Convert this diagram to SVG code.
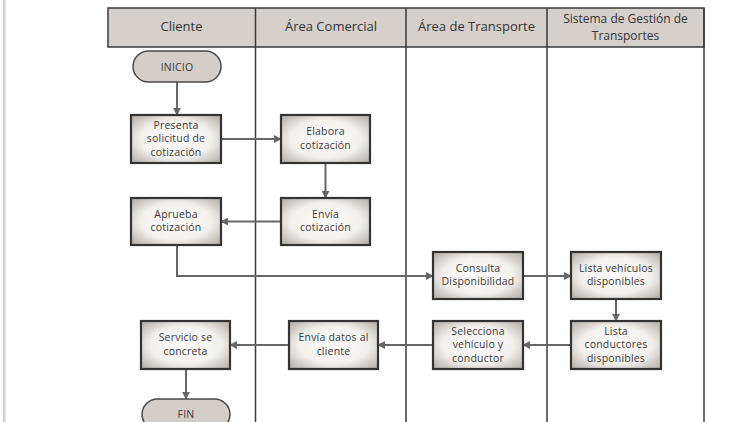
<svg xmlns="http://www.w3.org/2000/svg" width="739" height="422" viewBox="0 0 739 422">
<defs>
<radialGradient id="boxg" cx="50%" cy="50%" r="65%">
<stop offset="0%" stop-color="#fdfcfb"/>
<stop offset="60%" stop-color="#f3f1ee"/>
<stop offset="100%" stop-color="#b9b5b0"/>
</radialGradient>
<marker id="arr" viewBox="0 0 10 10" refX="9" refY="5" markerWidth="4" markerHeight="4" orient="auto" markerUnits="strokeWidth">
<path d="M0,0 L10,5 L0,10 z" fill="#666"/>
</marker>
<style>
.hdr{fill:#d5d0cb;stroke:#3a3a3a;stroke-width:1.5}
.lane{stroke:#3a3a3a;stroke-width:1.5;fill:none}
.box{fill:url(#boxg);stroke:#333;stroke-width:2.2}
.term{fill:#d3cec9;stroke:#4a4a4a;stroke-width:1.5}
.ht{font-family:"Open Sans","DejaVu Sans",sans-serif;font-size:13px;fill:#333;text-anchor:middle}
.ht2{font-family:"Open Sans","DejaVu Sans",sans-serif;font-size:12px;fill:#333;text-anchor:middle}
.t{font-family:"Open Sans","DejaVu Sans",sans-serif;font-size:10.5px;fill:#3a3a3a;text-anchor:middle;letter-spacing:0.2px}
.c{stroke:#666;stroke-width:2;fill:none;marker-end:url(#arr)}
</style>
</defs>
<rect x="0" y="0" width="739" height="422" fill="#ffffff"/>
<rect x="3" y="0" width="2.5" height="422" fill="#d2d2d2"/>
<g id="lanes">
<rect class="hdr" x="108" y="8" width="596" height="39"/>
<line class="lane" x1="255.5" y1="8" x2="255.5" y2="422"/>
<line class="lane" x1="406" y1="8" x2="406" y2="422"/>
<line class="lane" x1="547" y1="8" x2="547" y2="422"/>
<line class="lane" x1="704" y1="8" x2="704" y2="422"/>
<text class="ht" x="181.5" y="31">Cliente</text>
<text class="ht" x="331" y="31">Área Comercial</text>
<text class="ht" x="476.5" y="31">Área de Transporte</text>
<text class="ht2" x="625.5" y="23">Sistema de Gestión de</text>
<text class="ht2" x="625.5" y="40">Transportes</text>
</g>
<g id="connectors">
<path class="c" d="M177,82 V115"/>
<path class="c" d="M221,139 H281"/>
<path class="c" d="M325.5,163 V198"/>
<path class="c" d="M281,221.5 H221"/>
<path class="c" d="M177,245 V276 H433"/>
<path class="c" d="M523,276 H571"/>
<path class="c" d="M616,299 V321"/>
<path class="c" d="M571,345 H523"/>
<path class="c" d="M433,345 H378"/>
<path class="c" d="M289,345 H230"/>
<path class="c" d="M186,369 V399"/>
</g>
<g id="inicio">
<rect class="term" x="133" y="51" width="88" height="31" rx="15.5"/>
<text class="t" x="177" y="70.5">INICIO</text>
</g>
<g id="presenta">
<rect class="box" x="131" y="115" width="90" height="48"/>
<text class="t" x="176" y="128.5">Presenta</text>
<text class="t" x="176" y="142">solicitud de</text>
<text class="t" x="176" y="155.5">cotización</text>
</g>
<g id="elabora">
<rect class="box" x="281" y="115" width="89" height="48"/>
<text class="t" x="325.5" y="135">Elabora</text>
<text class="t" x="325.5" y="148.5">cotización</text>
</g>
<g id="envia">
<rect class="box" x="281" y="198" width="89" height="47"/>
<text class="t" x="325.5" y="217.5">Envía</text>
<text class="t" x="325.5" y="231">cotización</text>
</g>
<g id="aprueba">
<rect class="box" x="131" y="198" width="90" height="47"/>
<text class="t" x="176" y="217.5">Aprueba</text>
<text class="t" x="176" y="231">cotización</text>
</g>
<g id="consulta">
<rect class="box" x="433" y="252" width="90" height="47"/>
<text class="t" x="478" y="271.5">Consulta</text>
<text class="t" x="478" y="285">Disponibilidad</text>
</g>
<g id="listaveh">
<rect class="box" x="571" y="252" width="90" height="47"/>
<text class="t" x="616" y="271.5">Lista vehículos</text>
<text class="t" x="616" y="285">disponibles</text>
</g>
<g id="listacond">
<rect class="box" x="571" y="321" width="90" height="48"/>
<text class="t" x="616" y="334.5">Lista</text>
<text class="t" x="616" y="348">conductores</text>
<text class="t" x="616" y="361.5">disponibles</text>
</g>
<g id="selecciona">
<rect class="box" x="433" y="321" width="90" height="48"/>
<text class="t" x="478" y="334.5">Selecciona</text>
<text class="t" x="478" y="348">vehículo y</text>
<text class="t" x="478" y="361.5">conductor</text>
</g>
<g id="enviadatos">
<rect class="box" x="289" y="321" width="89" height="48"/>
<text class="t" x="333.5" y="341">Envía datos al</text>
<text class="t" x="333.5" y="354.5">cliente</text>
</g>
<g id="servicio">
<rect class="box" x="141" y="321" width="89" height="48"/>
<text class="t" x="185.5" y="341">Servicio se</text>
<text class="t" x="185.5" y="354.5">concreta</text>
</g>
<g id="fin">
<rect class="term" x="142" y="399" width="88" height="31" rx="15.5"/>
<text class="t" x="186" y="418">FIN</text>
</g>
</svg>
